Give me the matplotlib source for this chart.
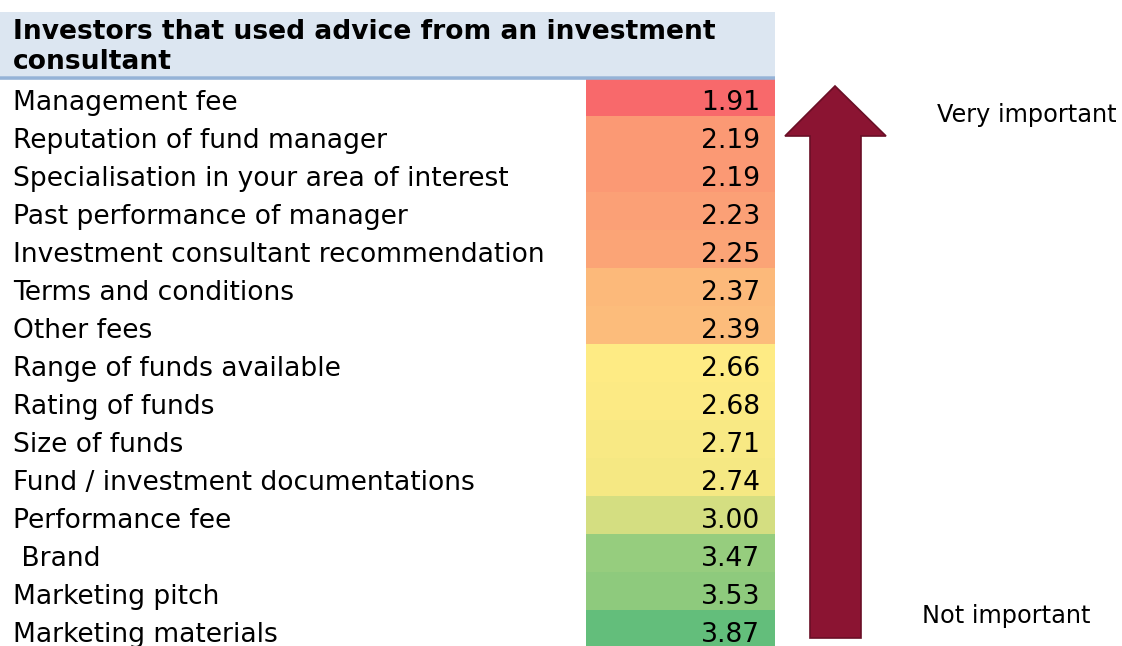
import matplotlib.pyplot as plt
import numpy as np
from matplotlib.colors import LinearSegmentedColormap, TwoSlopeNorm
from matplotlib.patches import Rectangle, Polygon

# data
title_lines = ['Investors that used advice from an investment', 'consultant']
factors = ['Management fee', 'Reputation of fund manager',
           'Specialisation in your area of interest', 'Past performance of manager',
           'Investment consultant recommendation', 'Terms and conditions',
           'Other fees', 'Range of funds available', 'Rating of funds',
           'Size of funds', 'Fund / investment documentations', 'Performance fee',
           ' Brand', 'Marketing pitch', 'Marketing materials']
scores = [1.91, 2.19, 2.19, 2.23, 2.25, 2.37, 2.39, 2.66, 2.68, 2.71, 2.74,
          3.00, 3.47, 3.53, 3.87]
top_label = 'Very important'
bottom_label = 'Not important'

# excel style 3 colour scale
cmap = LinearSegmentedColormap.from_list('ryg', ['#F8696B', '#FFEB84', '#63BE7B'])
norm = TwoSlopeNorm(vmin=min(scores), vcenter=np.median(scores), vmax=max(scores))

W, H = 1122, 646
fig = plt.figure(figsize=(W / 100, H / 100), dpi=100)
ax = fig.add_axes([0, 0, 1, 1])
ax.set_xlim(0, W)
ax.set_ylim(H, 0)
ax.axis('off')

fs = 19.1
# header
ax.add_patch(Rectangle((0, 12), 775, 64, facecolor='#DCE6F1', edgecolor='none'))
ax.plot([0, 775], [77.5, 77.5], color='#95B3D7', lw=2.6, solid_capstyle='butt')
for k, line in enumerate(title_lines):
    ax.text(13, 32 + 30 * k, line, fontsize=fs, fontweight='bold', va='center', ha='left')

row_h = 38
top = 78
for i, (lab, val) in enumerate(zip(factors, scores)):
    y0 = top + row_h * i
    ax.add_patch(Rectangle((586, y0), 189, row_h, facecolor=cmap(norm(val)),
                           edgecolor='none'))
    ax.text(13, y0 + row_h / 2 + 5.5, lab, fontsize=fs, va='center', ha='left')
    ax.text(760, y0 + row_h / 2 + 5.5, f'{val:.2f}', fontsize=fs, va='center', ha='right')

# arrow
arrow = Polygon([(835, 86), (886, 136), (861, 136), (861, 638), (810, 638),
                 (810, 136), (785, 136)], closed=True, facecolor='#8B1432',
                edgecolor='#6A0F26', lw=1.2)
ax.add_patch(arrow)
ax.text(937, 115, top_label, fontsize=17.3, va='center', ha='left')
ax.text(922, 616, bottom_label, fontsize=17.3, va='center', ha='left')

fig.savefig('out.png', dpi=100)
